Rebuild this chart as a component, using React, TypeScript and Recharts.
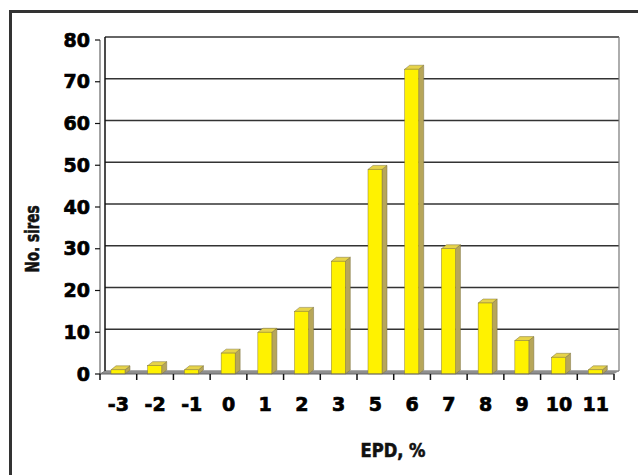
import React from 'react'
import { BarChart, Bar, XAxis, YAxis, CartesianGrid, ReferenceArea } from 'recharts'

const categories = ['-3', '-2', '-1', '0', '1', '2', '3', '5', '6', '7', '8', '9', '10', '11']
const sires = [1, 2, 1, 5, 10, 15, 27, 49, 73, 30, 17, 8, 4, 1]
const yTicks = [0, 10, 20, 30, 40, 50, 60, 70, 80]

const data = categories.map((epd, i) => ({ epd, sires: sires[i] }))

const FONT = '"DejaVu Sans", sans-serif'
const TITLE_FONT = '"DejaVu Sans Condensed", "DejaVu Sans", sans-serif'

// depth of the fake 3D
const WALL_DX = 5
const WALL_DY = 3
const BAR_DX = 5
const BAR_DY = 4

const Bar3D = (props: any) => {
  const { x, y, width, height } = props
  if (height == null || height <= 0) return null
  return (
    <g>
      <polygon
        points={`${x + width},${y} ${x + width + BAR_DX},${y - BAR_DY} ${x + width + BAR_DX},${y + height - BAR_DY} ${x + width},${y + height}`}
        fill="#b7a65a"
        stroke="#7d7240"
        strokeWidth={0.5}
      />
      <polygon
        points={`${x},${y} ${x + BAR_DX},${y - BAR_DY} ${x + width + BAR_DX},${y - BAR_DY} ${x + width},${y}`}
        fill="#e6d34a"
        stroke="#7d7240"
        strokeWidth={0.5}
      />
      <rect x={x} y={y} width={width} height={height} fill="#fff200" stroke="#8a7d3a" strokeWidth={0.5} />
    </g>
  )
}

// floor + back walls of the plot
const Walls = (props: any) => {
  const { x, y, width, height } = props
  const bottom = y + height
  const right = x + width
  return (
    <g>
      <polygon
        points={`${x},${bottom} ${right},${bottom} ${right + WALL_DX},${bottom - WALL_DY} ${x + WALL_DX},${bottom - WALL_DY}`}
        fill="#8f8f8f"
      />
      <line x1={x + WALL_DX} y1={y - WALL_DY} x2={x + WALL_DX} y2={bottom - WALL_DY} stroke="#111" strokeWidth={1.5} />
      <line x1={right + WALL_DX} y1={y - WALL_DY} x2={right + WALL_DX} y2={bottom - WALL_DY} stroke="#777" strokeWidth={1.2} />
      <line x1={x} y1={bottom} x2={x + WALL_DX} y2={bottom - WALL_DY} stroke="#777" strokeWidth={1} />
    </g>
  )
}

const gridLine = (p: any) => {
  const isFloor = p.index === 0
  return (
    <line
      key={`grid-${p.index}`}
      x1={p.x1 + WALL_DX}
      y1={p.y1 - WALL_DY}
      x2={p.x2 + WALL_DX}
      y2={p.y2 - WALL_DY}
      stroke={isFloor ? '#8f8f8f' : '#333'}
      strokeWidth={1.3}
    />
  )
}

const EpdTick = (props: any) => {
  const { x, y, payload, index, width, visibleTicksCount } = props
  const half = width / visibleTicksCount / 2
  return (
    <g>
      {index === 0 && <line x1={x - half} y1={y - 6} x2={x - half} y2={y} stroke="#111" strokeWidth={1.5} />}
      <line x1={x + half} y1={y - 6} x2={x + half} y2={y} stroke="#111" strokeWidth={1.5} />
      <text
        x={x}
        y={y + 31}
        textAnchor="middle"
        fontFamily={FONT}
        fontWeight="bold"
        fontSize={19}
        fill="#000"
        stroke="#000"
        strokeWidth={0.7}
      >
        {payload.value}
      </text>
    </g>
  )
}

export default function App() {
  return (
    <div style={{ position: 'absolute', left: 0, top: 0, width: 638, height: 475, overflow: 'hidden', background: '#fff' }}>
      <div
        style={{
          position: 'absolute',
          left: 9,
          top: 10,
          width: 660,
          height: 500,
          border: '3px solid #333',
          boxSizing: 'border-box',
        }}
      />
      <div style={{ position: 'absolute', left: 0, top: 0 }}>
        <BarChart width={638} height={475} data={data} margin={{ top: 40, right: 24, bottom: 71, left: 40 }}>
          <CartesianGrid vertical={false} horizontal={gridLine} />
          <ReferenceArea y1={0} y2={80} shape={<Walls />} fill="none" stroke="none" />
          <XAxis
            dataKey="epd"
            interval={0}
            height={30}
            tickLine={false}
            tickSize={6}
            tickMargin={0}
            axisLine={{ stroke: '#666', strokeWidth: 1.2 }}
            tick={<EpdTick />}
            label={{
              content: () => (
                <text
                  x={393}
                  y={457}
                  textAnchor="middle"
                  fontFamily={TITLE_FONT}
                  fontWeight="bold"
                  fontSize={20}
                  fill="#111"
                  stroke="#111"
                  strokeWidth={0.6}
                  textLength={65}
                  lengthAdjust="spacingAndGlyphs"
                >
                  EPD, %
                </text>
              ),
            }}
          />
          <YAxis
            width={60}
            domain={[0, 80]}
            ticks={yTicks}
            interval={0}
            tickSize={5}
            tickMargin={5}
            tickLine={{ stroke: '#111', strokeWidth: 1.2 }}
            axisLine={{ stroke: '#666', strokeWidth: 1.2 }}
            tick={{ fontFamily: FONT, fontWeight: 'bold', fontSize: 19, fill: '#000', stroke: '#000', strokeWidth: 0.7 }}
            label={{
              content: () => (
                <text
                  transform="translate(39,239) rotate(-90)"
                  textAnchor="middle"
                  fontFamily={TITLE_FONT}
                  fontWeight="bold"
                  fontSize={19}
                  fill="#111"
                  stroke="#111"
                  strokeWidth={0.6}
                  textLength={67}
                  lengthAdjust="spacingAndGlyphs"
                >
                  No. sires
                </text>
              ),
            }}
          />
          <Bar dataKey="sires" barSize={14} shape={Bar3D} isAnimationActive={false} />
        </BarChart>
      </div>
    </div>
  )
}
